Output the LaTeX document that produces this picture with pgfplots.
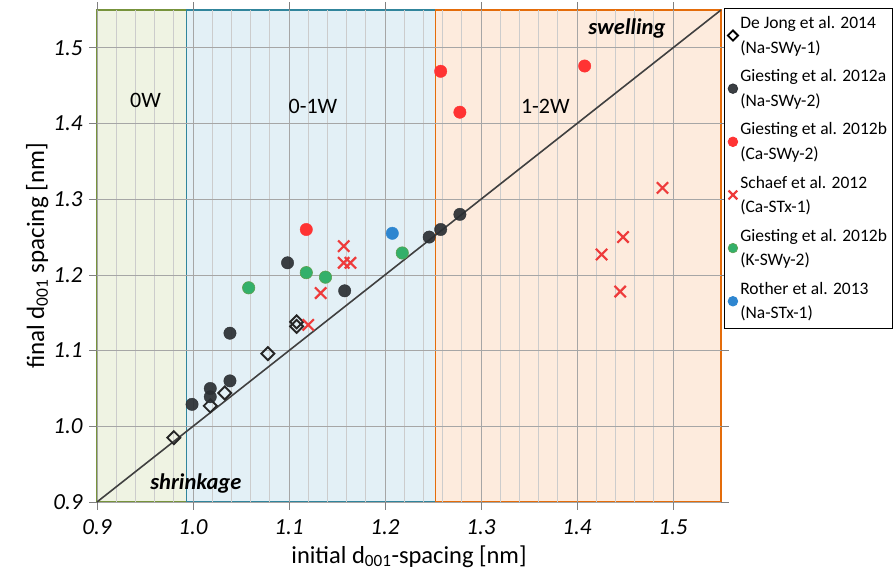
\documentclass[border=0pt]{standalone}
\usepackage{pgfplots}
\pgfplotsset{compat=1.18}
\usepackage{fontspec}
\setmainfont{Carlito}
\definecolor{zeroWfill}{HTML}{EFF3E3}
\definecolor{zeroWline}{HTML}{77933C}
\definecolor{oneWfill}{HTML}{E3F0F6}
\definecolor{oneWline}{HTML}{31859C}
\definecolor{twoWfill}{HTML}{FDEBDD}
\definecolor{twoWline}{HTML}{E46C0A}
\definecolor{ptblack}{HTML}{2B2F33}
\definecolor{ptred}{HTML}{FF3333}
\definecolor{ptcross}{HTML}{EE3B3B}
\definecolor{ptgreen}{HTML}{33B06A}
\definecolor{ptblue}{HTML}{2E86D0}
\begin{document}
\begin{tikzpicture}
\begin{axis}[
    set layers,
    scale only axis,
    width=624pt, height=492pt,
    xmin=0.9, xmax=1.55,
    ymin=0.9, ymax=1.55,
    xtick={0.9,1.0,...,1.5},
    ytick={0.9,1.0,...,1.5},
    minor x tick num=4,
    xmajorgrids, xminorgrids, ymajorgrids,
    major grid style={gray!70, line width=0.8pt},
    minor grid style={gray!40, line width=0.8pt},
    axis line style={draw=none},
    tick align=outside,
    major tick length=8pt,
    minor tick length=0pt,
    tick style={gray, line width=0.8pt},
    clip=false,
    /pgf/number format/assume math mode=true,
    /pgf/number format/.cd, fixed, fixed zerofill, precision=1,
    /pgfplots/.cd,
    ticklabel style={font=\fontsize{23}{26}\selectfont\itshape},
    xticklabel style={yshift=-6pt},
    yticklabel style={xshift=-3pt},
    xlabel={initial d\textsubscript{001}-spacing [nm]},
    ylabel={final d\textsubscript{001} spacing [nm]},
    xlabel style={font=\fontsize{24.5}{27}\selectfont, yshift=-4pt},
    ylabel style={font=\fontsize{25}{27}\selectfont, yshift=-2pt},
    legend image code/.code={\draw[#1] plot coordinates {(5pt,0pt)}; \path (0pt,0pt) (10pt,0pt);},
    legend style={at={(1.005,1.004)}, anchor=north west,
        draw=black, line width=0.8pt,
        font=\fontsize{17.5}{24.5}\selectfont,
        cells={anchor=west, align=left},
        row sep=11pt, inner ysep=6pt, inner xsep=3pt},
]
% water-layer regions
\addplot[on layer=axis background, fill=zeroWfill, draw=zeroWline, line width=1.5pt, forget plot]
    coordinates {(0.9,0.9)(0.993,0.9)(0.993,1.55)(0.9,1.55)} -- cycle;
\addplot[on layer=axis background, fill=oneWfill, draw=oneWline, line width=1.5pt, forget plot]
    coordinates {(0.993,0.9)(1.2525,0.9)(1.2525,1.55)(0.993,1.55)} -- cycle;
\addplot[on layer=axis background, fill=twoWfill, draw=twoWline, line width=1.5pt, forget plot]
    coordinates {(1.2525,0.9)(1.55,0.9)(1.55,1.55)(1.2525,1.55)} -- cycle;
% 1:1 line
\addplot[color=black!75, line width=1.6pt, forget plot]
    coordinates {(0.9,0.9)(1.55,1.55)};

% De Jong et al. 2014
\addplot[only marks, mark=square, mark size=4.6pt,
    mark options={rotate=45, draw=black!85, fill=none, line width=1.9pt},
    legend image post style={mark size=3.6pt, mark options={rotate=45, draw=black, fill=white, line width=1.8pt}}]
    coordinates {(0.98,0.985)(1.018,1.027)(1.033,1.044)(1.078,1.096)
                 (1.108,1.132)(1.108,1.138)};
\addlegendentry{De Jong et al. 2014\\(Na-SWy-1)}
% Giesting et al. 2012a
\addplot[only marks, mark=*, mark size=6.2pt,
    mark options={draw=ptblack, fill=ptblack, fill opacity=0.92, draw opacity=0.92},
    legend image post style={mark size=4.8pt}]
    coordinates {(0.999,1.029)(1.018,1.039)(1.018,1.050)(1.0385,1.060)
                 (1.0385,1.123)(1.0985,1.216)(1.158,1.179)
                 (1.246,1.250)(1.258,1.260)(1.278,1.280)};
\addlegendentry{Giesting et al. 2012a\\(Na-SWy-2)}
% Giesting et al. 2012b (Ca)
\addplot[only marks, mark=*, mark size=6.2pt,
    mark options={draw=ptred, fill=ptred},
    legend image post style={mark size=4.8pt}]
    coordinates {(1.118,1.260)(1.258,1.469)(1.278,1.415)(1.408,1.476)};
\addlegendentry{Giesting et al. 2012b\\(Ca-SWy-2)}
% Schaef et al. 2012
\addplot[only marks, mark=x, mark size=8pt,
    mark options={draw=ptcross, line width=2.2pt},
    legend image post style={mark size=6.2pt}]
    coordinates {(1.120,1.134)(1.133,1.176)(1.157,1.238)(1.157,1.216)
                 (1.164,1.216)(1.4256,1.227)(1.448,1.250)(1.445,1.178)
                 (1.489,1.315)};
\addlegendentry{Schaef et al. 2012\\(Ca-STx-1)}
% Giesting et al. 2012b (K)
\addplot[only marks, mark=*, mark size=6.2pt,
    mark options={draw=zeroWline!60!ptgreen, fill=ptgreen, line width=0.6pt},
    legend image post style={mark size=4.8pt}]
    coordinates {(1.058,1.183)(1.118,1.203)(1.138,1.197)(1.218,1.229)};
\addlegendentry{Giesting et al. 2012b\\(K-SWy-2)}
% Rother et al. 2013
\addplot[only marks, mark=*, mark size=6.2pt,
    mark options={draw=ptblue, fill=ptblue},
    legend image post style={mark size=4.8pt}]
    coordinates {(1.2076,1.255)};
\addlegendentry{Rother et al. 2013\\(Na-STx-1)}

\node[font=\fontsize{22}{24}\selectfont] at (axis cs:0.9505,1.43) {0W};
\node[font=\fontsize{22}{24}\selectfont] at (axis cs:1.125,1.422) {0-1W};
\node[font=\fontsize{22}{24}\selectfont] at (axis cs:1.367,1.423) {1-2W};
\node[font=\fontsize{22.5}{24}\selectfont\bfseries\itshape] at (axis cs:1.452,1.525) {swelling};
\node[font=\fontsize{22.5}{24}\selectfont\bfseries\itshape] at (axis cs:1.003,0.925) {shrinkage};
\end{axis}
\path (current axis.south west) ++(-97pt,-76pt) rectangle ++(895pt,578pt);
\end{tikzpicture}
\end{document}
